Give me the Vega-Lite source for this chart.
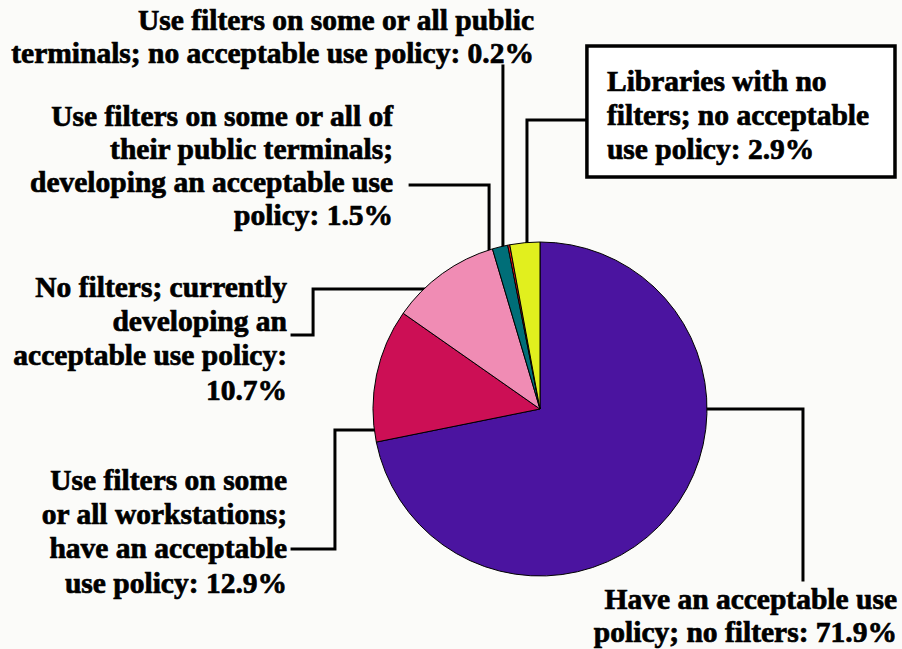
{
  "$schema": "https://vega.github.io/schema/vega-lite/v6.json",
  "width": 902,
  "height": 649,
  "padding": 0,
  "autosize": {"type": "none"},
  "background": "#fbfbf9",
  "config": {"view": {"stroke": null}},
  "datasets": {
    "slices": [
      {"idx": 1, "cat": "Have an acceptable use policy; no filters", "pct": 71.9},
      {"idx": 2, "cat": "Use filters on some or all workstations; have an acceptable use policy", "pct": 12.9},
      {"idx": 3, "cat": "No filters; currently developing an acceptable use policy", "pct": 10.7},
      {"idx": 4, "cat": "Use filters on some or all of their public terminals; developing an acceptable use policy", "pct": 1.5},
      {"idx": 5, "cat": "Use filters on some or all public terminals; no acceptable use policy", "pct": 0.2},
      {"idx": 6, "cat": "Libraries with no filters; no acceptable use policy", "pct": 2.9}
    ],
    "leaders": [
      {"lead": "E", "seq": 1, "x": 95, "y": 0},
      {"lead": "E", "seq": 2, "x": 157.5, "y": 0},
      {"lead": "E", "seq": 3, "x": 157.5, "y": -102.4},
      {"lead": "D", "seq": 1, "x": -95, "y": -12.6},
      {"lead": "D", "seq": 2, "x": -122.8, "y": -12.6},
      {"lead": "D", "seq": 3, "x": -122.8, "y": -83.8},
      {"lead": "D", "seq": 4, "x": -148.5, "y": -83.8},
      {"lead": "C", "seq": 1, "x": -65, "y": 71.9},
      {"lead": "C", "seq": 2, "x": -135.9, "y": 71.9},
      {"lead": "C", "seq": 3, "x": -135.9, "y": 44.3},
      {"lead": "C", "seq": 4, "x": -148.5, "y": 44.3},
      {"lead": "B", "seq": 1, "x": -77.8, "y": 134.1},
      {"lead": "B", "seq": 2, "x": -30.5, "y": 134.1},
      {"lead": "B", "seq": 3, "x": -30.5, "y": 90},
      {"lead": "A", "seq": 1, "x": -22.2, "y": 205.4},
      {"lead": "A", "seq": 2, "x": -22.2, "y": 90},
      {"lead": "F", "seq": 1, "x": 28.1, "y": 173.1},
      {"lead": "F", "seq": 2, "x": -7.8, "y": 173.1},
      {"lead": "F", "seq": 3, "x": -7.8, "y": 90}
    ],
    "box": [
      {"x": 28.1, "x2": 212.6, "y": 217.4, "y2": 138.9}
    ],
    "rightLabels": [
      {"t": "Use filters on some or all public", "x": -3.6, "y": 226.9},
      {"t": "terminals; no acceptable use policy: 0.2%", "x": -3.6, "y": 207.2},
      {"t": "Use filters on some or all of", "x": -88.0, "y": 169.5},
      {"t": "their public terminals;", "x": -88.0, "y": 149.7},
      {"t": "developing an acceptable use", "x": -88.0, "y": 129.9},
      {"t": "policy: 1.5%", "x": -88.0, "y": 110.2},
      {"t": "No filters; currently", "x": -151.5, "y": 67.1},
      {"t": "developing an", "x": -151.5, "y": 46.7},
      {"t": "acceptable use policy:", "x": -151.5, "y": 26.3},
      {"t": "10.7%", "x": -151.5, "y": 5.4},
      {"t": "Use filters on some", "x": -151.5, "y": -48.5},
      {"t": "or all workstations;", "x": -151.5, "y": -68.9},
      {"t": "have an acceptable", "x": -151.5, "y": -89.2},
      {"t": "use policy: 12.9%", "x": -151.5, "y": -110.2},
      {"t": "Have an acceptable use", "x": 213.8, "y": -119.8},
      {"t": "policy; no filters: 71.9%", "x": 213.8, "y": -139.5}
    ],
    "leftLabels": [
      {"t": "Libraries with no", "x": 40.1, "y": 190.4},
      {"t": "filters; no acceptable", "x": 40.1, "y": 170.1},
      {"t": "use policy: 2.9%", "x": 40.1, "y": 149.7}
    ]
  },
  "layer": [
    {
      "data": {"name": "leaders"},
      "mark": {"type": "line", "color": "#000000", "strokeWidth": 3, "strokeCap": "square", "strokeJoin": "miter"},
      "encoding": {
        "x": {"field": "x", "type": "quantitative", "scale": {"domain": [-323.4, 216.8], "nice": false, "zero": false}, "axis": null},
        "y": {"field": "y", "type": "quantitative", "scale": {"domain": [-143.7, 244.9], "nice": false, "zero": false}, "axis": null},
        "detail": {"field": "lead", "type": "nominal"},
        "order": {"field": "seq", "type": "quantitative"}
      }
    },
    {
      "data": {"name": "box"},
      "mark": {"type": "rect", "fill": "#ffffff", "stroke": "#000000", "strokeWidth": 3.5},
      "encoding": {
        "x": {"field": "x", "type": "quantitative"},
        "x2": {"field": "x2"},
        "y": {"field": "y", "type": "quantitative"},
        "y2": {"field": "y2"}
      }
    },
    {
      "data": {"name": "slices"},
      "mark": {"type": "arc", "outerRadius": 167, "stroke": "#000000", "strokeWidth": 1},
      "encoding": {
        "x": {"datum": 0, "type": "quantitative"},
        "y": {"datum": 0, "type": "quantitative"},
        "theta": {"field": "pct", "type": "quantitative", "stack": true},
        "order": {"field": "idx", "type": "quantitative"},
        "color": {
          "field": "cat",
          "type": "nominal",
          "legend": null,
          "scale": {
            "domain": [
              "Have an acceptable use policy; no filters",
              "Use filters on some or all workstations; have an acceptable use policy",
              "No filters; currently developing an acceptable use policy",
              "Use filters on some or all of their public terminals; developing an acceptable use policy",
              "Use filters on some or all public terminals; no acceptable use policy",
              "Libraries with no filters; no acceptable use policy"
            ],
            "range": ["#4b14a0", "#cc0f55", "#f08cb4", "#006e78", "#ff1a1a", "#e1ef1e"]
          }
        }
      }
    },
    {
      "data": {"name": "rightLabels"},
      "mark": {"type": "text", "align": "right", "baseline": "alphabetic", "font": "Liberation Serif", "fontWeight": "bold", "fontSize": 29.5, "color": "#000000", "stroke": "#000000", "strokeWidth": 0.7},
      "encoding": {
        "x": {"field": "x", "type": "quantitative"},
        "y": {"field": "y", "type": "quantitative"},
        "text": {"field": "t", "type": "nominal"}
      }
    },
    {
      "data": {"name": "leftLabels"},
      "mark": {"type": "text", "align": "left", "baseline": "alphabetic", "font": "Liberation Serif", "fontWeight": "bold", "fontSize": 29.5, "color": "#000000", "stroke": "#000000", "strokeWidth": 0.7},
      "encoding": {
        "x": {"field": "x", "type": "quantitative"},
        "y": {"field": "y", "type": "quantitative"},
        "text": {"field": "t", "type": "nominal"}
      }
    }
  ]
}
